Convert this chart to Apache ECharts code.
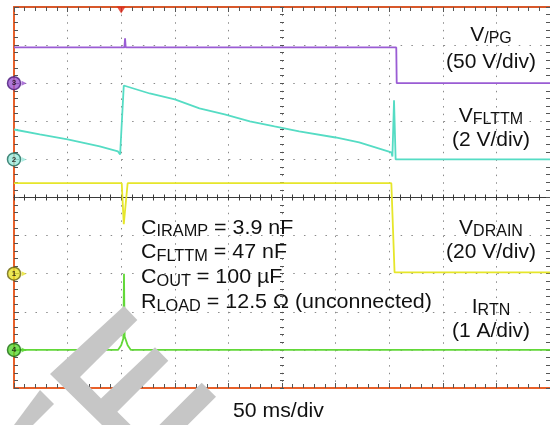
<!DOCTYPE html>
<html><head><meta charset="utf-8">
<script src="https://cdn.jsdelivr.net/npm/echarts@6/dist/echarts.min.js"></script>
<style>html,body{margin:0;padding:0;background:#fff}#c{width:550px;height:425px}</style>
</head><body><div id="c"></div><script>
// ---- data (time in ms, 50 ms/div; values in channel units) ----
const pgTime  = [0, 103, 103.6, 104.2, 356.6, 357, 500];
const pgVolts = [47, 47, 59, 47, 47, 0, 0];           // V/PG, 50 V/div

const flttmTime  = [0, 24, 50, 80, 97, 99, 100.5, 102.4, 126.6, 150, 173, 196.5, 220, 243, 266, 300, 322, 352, 353, 354.5, 356, 500];
const flttmVolts = [1.57, 1.31, 1.05, 0.68, 0.42, 0.26, 0.3, 3.88, 3.46, 3.15, 2.68, 2.36, 2.0, 1.73, 1.47, 1.15, 0.89, 0.37, 0.15, 3.1, 0, 0]; // 2 V/div

const drainTime  = [0, 100.5, 102.4, 106, 352, 355, 500];
const drainVolts = [47.5, 47.5, 26, 47.5, 47.5, 0.7, 0.7]; // 20 V/div

const rtnTime = [0, 97, 100, 102, 102.6, 103.2, 104, 106, 109, 500];
const rtnAmps = [0, 0, 0.12, 0.3, 2.0, 0.35, 0.3, 0.12, 0, 0]; // 1 A/div

const pgScale = 50, flttmScale = 2, drainScale = 20, rtnScale = 1;
const pgGround = 8, flttmGround = 6, drainGround = 3, rtnGround = 1; // divisions from bottom
const channelLabels = ['3', '2', '1', '4'];
const triggerTime = 100;

// ---- helpers ----
const toDiv = (v, s, g) => g - 5 + v / s;
const pair = (ts, vs, s, g) => ts.map((t, i) => [t, toDiv(vs[i], s, g)]);

const FONT = "'Liberation Sans', Arial, Helvetica, sans-serif";
const ORANGE = '#e8602a';
const GRID_DOT = '#8a8a8a';

const chart = echarts.init(document.getElementById('c'), null, {renderer: 'canvas'});

function line(data, color, w) {
  return {type: 'line', data, showSymbol: false, symbol: 'none', silent: true,
    lineStyle: {color, width: w}, xAxisIndex: 0, yAxisIndex: 0, z: 5, animation: false};
}

const markerDefs = [
  {g: pgGround, fill: '#9a55d0', border: '#4a1a7a'},
  {g: flttmGround, fill: '#98eadc', border: '#1a6a5a'},
  {g: drainGround, fill: '#e8e22a', border: '#6a6410'},
  {g: rtnGround, fill: '#58d830', border: '#1a6a10'}
];

const xCommon = {type: 'value', min: 0, max: 500, interval: 50, axisLabel: {show: false}};
const yCommon = {type: 'value', min: -5, max: 5, interval: 1, axisLabel: {show: false}};

const option = {
  animation: false,
  backgroundColor: '#fff',
  grid: {left: 14, top: 7, width: 537, height: 381, containLabel: false},
  xAxis: [
    Object.assign({}, xCommon, {position: 'bottom',
      axisLine: {onZero: false, lineStyle: {color: ORANGE, width: 2}},
      axisTick: {show: true, inside: true, length: 5, lineStyle: {color: '#555'}},
      minorTick: {show: true, splitNumber: 5, length: 4, lineStyle: {color: '#555'}},
      splitLine: {show: true, lineStyle: {color: GRID_DOT, width: 1, type: [1.5, 6.12]}}}),
    Object.assign({}, xCommon, {position: 'top',
      axisLine: {onZero: false, lineStyle: {color: '#d8582a', width: 2}},
      axisTick: {show: true, inside: true, length: 5, lineStyle: {color: '#555'}},
      minorTick: {show: true, splitNumber: 5, length: 4, lineStyle: {color: '#555'}},
      splitLine: {show: false}}),
    Object.assign({}, xCommon, {position: 'bottom',
      axisLine: {onZero: true, lineStyle: {color: '#3a3a3a', width: 1.2}},
      axisTick: {show: true, inside: false, length: 3, lineStyle: {color: '#3a3a3a'}},
      minorTick: {show: true, splitNumber: 5, length: 3, lineStyle: {color: '#3a3a3a'}},
      splitLine: {show: false}}),
    Object.assign({}, xCommon, {position: 'top',
      axisLine: {onZero: true, show: false},
      axisTick: {show: true, inside: false, length: 3, lineStyle: {color: '#3a3a3a'}},
      minorTick: {show: true, splitNumber: 5, length: 3, lineStyle: {color: '#3a3a3a'}},
      splitLine: {show: false}})
  ],
  yAxis: [
    Object.assign({}, yCommon, {position: 'left',
      axisLine: {onZero: false, lineStyle: {color: ORANGE, width: 2}},
      axisTick: {show: true, inside: true, length: 5, lineStyle: {color: '#555'}},
      minorTick: {show: true, splitNumber: 5, length: 4, lineStyle: {color: '#555'}},
      splitLine: {show: true, lineStyle: {color: GRID_DOT, width: 1, type: [1.5, 9.24]}}}),
    Object.assign({}, yCommon, {position: 'right',
      axisLine: {onZero: false, lineStyle: {color: '#666', width: 1}},
      axisTick: {show: true, inside: true, length: 4, lineStyle: {color: '#555'}},
      minorTick: {show: true, splitNumber: 5, length: 4, lineStyle: {color: '#555'}},
      splitLine: {show: false}}),
    Object.assign({}, yCommon, {position: 'left', offset: -268.5,
      axisLine: {onZero: false, show: false},
      axisTick: {show: true, inside: false, length: 2.5, lineStyle: {color: '#555'}},
      minorTick: {show: true, splitNumber: 5, length: 2.5, lineStyle: {color: '#555'}},
      splitLine: {show: false}}),
    Object.assign({}, yCommon, {position: 'right', offset: -268.5,
      axisLine: {onZero: false, show: false},
      axisTick: {show: true, inside: false, length: 2.5, lineStyle: {color: '#555'}},
      minorTick: {show: true, splitNumber: 5, length: 2.5, lineStyle: {color: '#555'}},
      splitLine: {show: false}})
  ],
  series: [
    line(pair(pgTime, pgVolts, pgScale, pgGround), '#9a5cd4', 1.8),
    line(pair(flttmTime, flttmVolts, flttmScale, flttmGround), '#55dcc4', 1.8),
    line(pair(drainTime, drainVolts, drainScale, drainGround), '#e6e62a', 1.8),
    line(pair(rtnTime, rtnAmps, rtnScale, rtnGround), '#62d838', 1.8),
    {type: 'scatter', silent: true, clip: false, z: 8, animation: false,
      symbol: 'triangle', symbolRotate: -90, symbolSize: 5, symbolOffset: [10, 0],
      data: markerDefs.map(m => ({value: [0, toDiv(0, 1, m.g)], itemStyle: {color: m.fill}}))},
    {type: 'scatter', silent: true, clip: false, z: 9, animation: false,
      symbol: 'circle', symbolSize: 13,
      data: markerDefs.map((m, i) => ({value: [0, toDiv(0, 1, m.g)],
        itemStyle: {color: m.fill, borderColor: m.border, borderWidth: 1.5},
        label: {show: true, position: 'inside', formatter: channelLabels[i], fontSize: 8, fontWeight: 'bold', color: '#111', fontFamily: FONT}}))},
    {type: 'scatter', silent: true, clip: false, z: 9, animation: false,
      symbol: 'triangle', symbolRotate: 180, symbolSize: [9, 7], symbolOffset: [0, 3],
      data: [{value: [triggerTime, 5], itemStyle: {color: '#e02818'}}]}
  ]
};

const mRich = (fs, sub) => ({
  m: {fontSize: fs, lineHeight: 24, fontFamily: FONT, color: '#111'},
  s: {fontSize: sub, lineHeight: 14, fontFamily: FONT, color: '#111', verticalAlign: 'bottom'}
});
function txt(x, y, text, align, fs, sub, sx) {
  return {type: 'text', z: 120, silent: true, scaleX: sx || 1, x: x, y: y,
    style: {text: text, x: 0, y: 0, align: align, verticalAlign: 'middle', rich: mRich(fs, sub), fill: '#111'}};
}
const wm = (pts) => ({type: 'polygon', z: 100, silent: true, shape: {points: pts}, style: {fill: '#c6c6c6'}});

option.graphic = {elements: [
  wm([[14,425],[40,390],[54,404],[33,425]]),
  wm([[124,306],[137.3,320],[80,377],[101,398.5],[155,347.3],[168.3,360.7],[117.3,411.7],[130.7,425],[102,425],[50,374]]),
  wm([[201.7,382.7],[216,396.7],[187.7,425],[159.3,425]]),
  txt(491, 35, '{m|V}{s|/PG}', 'center', 21, 16),
  txt(491, 62, '{m|(50 V/div)}', 'center', 21, 16),
  txt(491, 116, '{m|V}{s|FLTTM}', 'center', 21, 16),
  txt(491, 140, '{m|(2 V/div)}', 'center', 21, 16),
  txt(491, 228, '{m|V}{s|DRAIN}', 'center', 21, 16),
  txt(491, 252, '{m|(20 V/div)}', 'center', 21, 16),
  txt(491, 307, '{m|I}{s|RTN}', 'center', 21, 16),
  txt(491, 331, '{m|(1 A/div)}', 'center', 21, 16),
  txt(141, 228, '{m|C}{s|IRAMP}{m| = 3.9 nF}', 'left', 21, 16, 1.02),
  txt(141, 252.5, '{m|C}{s|FLTTM}{m| = 47 nF}', 'left', 21, 16, 1.02),
  txt(141, 277.5, '{m|C}{s|OUT}{m| = 100 µF}', 'left', 21, 16, 1.02),
  txt(141, 302.5, '{m|R}{s|LOAD}{m| = 12.5 Ω (unconnected)}', 'left', 21, 16, 1.02),
  txt(233, 411.5, '{m|50 ms/div}', 'left', 21, 16, 1.01)
]};

chart.setOption(option);
</script></body></html>
